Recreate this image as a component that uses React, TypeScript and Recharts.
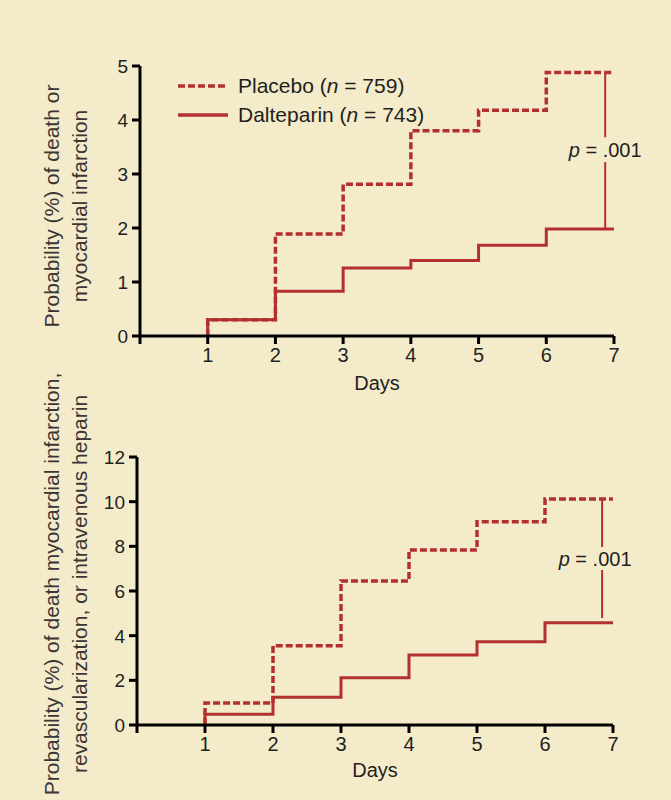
import React from 'react';
import { LineChart, Line, XAxis, YAxis, ReferenceLine, ReferenceDot } from 'recharts';

// step points: the first pair is the rise at day 1
const stepDays = [1, 1, 2, 3, 4, 5, 6, 7];
const dayTicks = [0, 1, 2, 3, 4, 5, 6, 7];

const topPlacebo = [0, 0.3, 1.89, 2.81, 3.8, 4.18, 4.88, 4.88];
const topDalteparin = [0, 0.3, 0.83, 1.26, 1.4, 1.68, 1.98, 1.98];
const topTicks = [0, 1, 2, 3, 4, 5];
const topPLine = [6.87, 1.98, 3.22, 3.68, 4.88];

const bottomPlacebo = [0, 0.98, 3.55, 6.45, 7.84, 9.1, 10.12, 10.12];
const bottomDalteparin = [0, 0.48, 1.24, 2.12, 3.13, 3.73, 4.58, 4.58];
const bottomTicks = [0, 2, 4, 6, 8, 10, 12];
const bottomPLine = [6.84, 4.79, 6.94, 7.97, 10.12];

const RED = '#b3302f';
const INK = '#231f20';
const BG = '#f4ebcb';
const FONT = '"Liberation Sans", Arial, sans-serif';

const toRows = (vals: number[]) => stepDays.map((day, i) => ({ day, value: vals[i] }));

const renderXTick = (props: any) => {
  const { x, y, payload } = props;
  if (payload.value === 0) return <g />;
  return (
    <text x={x} y={y} dy="0.8em" textAnchor="middle" fill={INK}
      style={{ fontSize: 20, fontFamily: FONT }}>
      {payload.value}
    </text>
  );
};

const renderYTick = (props: any) => {
  const { x, y, payload } = props;
  return (
    <text x={x} y={y} dy="0.36em" textAnchor="end" fill={INK}
      style={{ fontSize: 19, fontFamily: FONT }}>
      {payload.value}
    </text>
  );
};

const PText = (dx: number) => (props: any) => {
  const { viewBox } = props;
  return (
    <text x={viewBox.x + dx} y={viewBox.y} textAnchor="middle" dominantBaseline="central"
      fill={INK} style={{ fontSize: 20, fontFamily: FONT }}>
      <tspan fontStyle="italic">p</tspan> = .001
    </text>
  );
};

const LegendBox = () => (
  <div style={{ position: 'absolute', left: 178, top: 71, fontFamily: FONT, fontSize: 21, color: INK, lineHeight: '29px', whiteSpace: 'nowrap' }}>
    <div style={{ display: 'flex', alignItems: 'center' }}>
      <svg width={50} height={6} style={{ marginRight: 10 }}>
        <line x1={0} y1={3} x2={50} y2={3} stroke={RED} strokeWidth={3.5} strokeDasharray="7 3" />
      </svg>
      <span>Placebo (<i>n</i> = 759)</span>
    </div>
    <div style={{ display: 'flex', alignItems: 'center' }}>
      <svg width={50} height={6} style={{ marginRight: 10 }}>
        <line x1={0} y1={3} x2={50} y2={3} stroke={RED} strokeWidth={3.5} />
      </svg>
      <span>Dalteparin (<i>n</i> = 743)</span>
    </div>
  </div>
);

interface PanelProps {
  placebo: number[];
  dalteparin: number[];
  yTicks: number[];
  pLine: number[];
  pDx: number;
  margin: { top: number; right: number; bottom: number; left: number };
  xHeight: number;
}

const Panel: React.FC<PanelProps> = ({ placebo, dalteparin, yTicks, pLine, pDx, margin, xHeight }) => {
  const [px, y0, y1, y2, y3] = pLine;
  const yMax = yTicks[yTicks.length - 1];
  return (
    <LineChart width={671} height={400} margin={margin} style={{ fontFamily: FONT }}>
      <XAxis
        dataKey="day" type="number" domain={[0, 7]} ticks={dayTicks} allowDataOverflow
        axisLine={{ stroke: '#000', strokeWidth: 3 }} tickLine={{ stroke: '#000', strokeWidth: 3 }}
        tickSize={8} tickMargin={2} height={xHeight} tick={renderXTick}
        label={{ value: 'Days', position: 'insideBottom', offset: 0, fill: INK, style: { fontSize: 20, fontFamily: FONT } }}
      />
      <YAxis
        type="number" domain={[0, yMax]} ticks={yTicks} width={40}
        axisLine={{ stroke: '#000', strokeWidth: 3 }} tickLine={{ stroke: '#000', strokeWidth: 3 }}
        tickSize={8} tickMargin={4} tick={renderYTick}
      />
      <Line data={toRows(placebo)} dataKey="value" type="stepAfter" stroke={RED} strokeWidth={3.5}
        strokeDasharray="7 3" dot={false} isAnimationActive={false} name="Placebo" />
      <Line data={toRows(dalteparin)} dataKey="value" type="stepAfter" stroke={RED} strokeWidth={3}
        dot={false} isAnimationActive={false} name="Dalteparin" />
      <ReferenceLine segment={[{ x: px, y: y0 }, { x: px, y: y1 }]} stroke={RED} strokeWidth={2} ifOverflow="visible" />
      <ReferenceLine segment={[{ x: px, y: y2 }, { x: px, y: y3 }]} stroke={RED} strokeWidth={2} ifOverflow="visible" />
      <ReferenceDot x={px} y={(y1 + y2) / 2} r={0} stroke="none" fill="none" ifOverflow="visible"
        label={{ content: PText(pDx) }} />
    </LineChart>
  );
};

const yTitle = (lines: string[], cx: number, cy: number) => (
  <div style={{
    position: 'absolute', left: cx - 250, top: cy - 28, width: 500, height: 56,
    transform: 'rotate(-90deg)', textAlign: 'center', fontFamily: FONT, fontSize: 21,
    lineHeight: '28px', color: '#3a3536', whiteSpace: 'nowrap',
  }}>
    {lines.map((l) => <div key={l}>{l}</div>)}
  </div>
);

export default function App() {
  return (
    <div style={{ position: 'absolute', left: 0, top: 0, width: 671, height: 800, background: BG, overflow: 'hidden' }}>
      <div style={{ position: 'absolute', left: 0, top: 0 }}>
        <Panel placebo={topPlacebo} dalteparin={topDalteparin} yTicks={topTicks} pLine={topPLine} pDx={0}
          margin={{ top: 66, right: 57, bottom: 10, left: 100 }} xHeight={54} />
      </div>
      <div style={{ position: 'absolute', left: 0, top: 400 }}>
        <Panel placebo={bottomPlacebo} dalteparin={bottomDalteparin} yTicks={bottomTicks} pLine={bottomPLine} pDx={-7}
          margin={{ top: 57, right: 58, bottom: 23, left: 97 }} xHeight={52} />
      </div>
      <LegendBox />
      {yTitle(['Probability (%) of death or', 'myocardial infarction'], 66, 206)}
      {yTitle(['Probability (%) of death myocardial infarction,', 'revascularization, or intravenous heparin'], 66, 584)}
    </div>
  );
}
